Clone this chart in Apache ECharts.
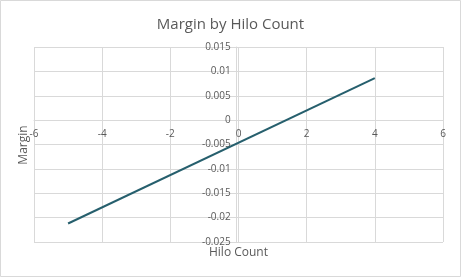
<!DOCTYPE html>
<html><head><meta charset="utf-8">
<script src="https://cdn.jsdelivr.net/npm/echarts@6/dist/echarts.min.js"></script>
<style>html,body{margin:0;padding:0;background:#fff}#c{width:461px;height:277px}</style>
</head><body><div id="c"></div>
<script>
const chartTitle = 'Margin by Hilo Count';
const xTitle = 'Hilo Count';
const yTitle = 'Margin';
const hiloCount = [-5, 4];
const margin = [-0.0212, 0.0086];

const chart = echarts.init(document.getElementById('c'), null, {renderer: 'canvas'});
const font = 'Open Sans';
const txt = '#595959';
const gridC = '#d9d9d9';
chart.setOption({
  animation: false,
  backgroundColor: '#fff',
  title: {text: chartTitle, left: 'center', top: 12,
    textStyle: {fontFamily: font, fontSize: 15, fontWeight: 'normal', color: txt}},
  grid: {left: 34, right: 18, top: 47, bottom: 35, containLabel: false},
  xAxis: {type: 'value', min: -6, max: 6, interval: 2, position: 'bottom',
    axisLine: {show: true, onZero: false, lineStyle: {color: gridC}},
    axisTick: {show: false},
    axisLabel: {fontFamily: font, fontSize: 10, color: txt, margin: 9},
    splitLine: {show: true, lineStyle: {color: gridC}}},
  yAxis: {type: 'value', min: -0.025, max: 0.015, interval: 0.005, position: 'left',
    axisLine: {show: true, onZero: false, lineStyle: {color: gridC}},
    axisTick: {show: false},
    axisLabel: {fontFamily: font, fontSize: 10, color: txt, margin: 6,
      formatter: v => String(parseFloat(v.toFixed(3)))},
    splitLine: {show: true, lineStyle: {color: gridC}}},
  graphic: [
    {type: 'rect', shape: {x: 0.5, y: 0.5, width: 460, height: 276},
      style: {fill: 'none', stroke: '#d9d9d9', lineWidth: 1}},
    {type: 'text', x: 238.5, y: 253, style: {text: xTitle, fontFamily: font, fontSize: 12,
      fill: txt, align: 'center', verticalAlign: 'middle'}},
    {type: 'text', x: 24, y: 145, rotation: Math.PI / 2, style: {text: yTitle, fontFamily: font,
      fontSize: 12, fill: txt, align: 'center', verticalAlign: 'middle'}}
  ],
  series: [{type: 'line', data: hiloCount.map((x, i) => [x, margin[i]]),
    showSymbol: false, symbol: 'none', lineStyle: {color: '#265f6d', width: 2}}]
});
// Place both axes through the origin, using the library's own scales.
const origin = chart.convertToPixel({gridIndex: 0}, [0, 0]);
const corner = chart.convertToPixel({gridIndex: 0}, [-6, -0.025]);
chart.setOption({
  xAxis: {offset: -(corner[1] - origin[1])},
  yAxis: {offset: -(origin[0] - corner[0])}
});
</script></body></html>
